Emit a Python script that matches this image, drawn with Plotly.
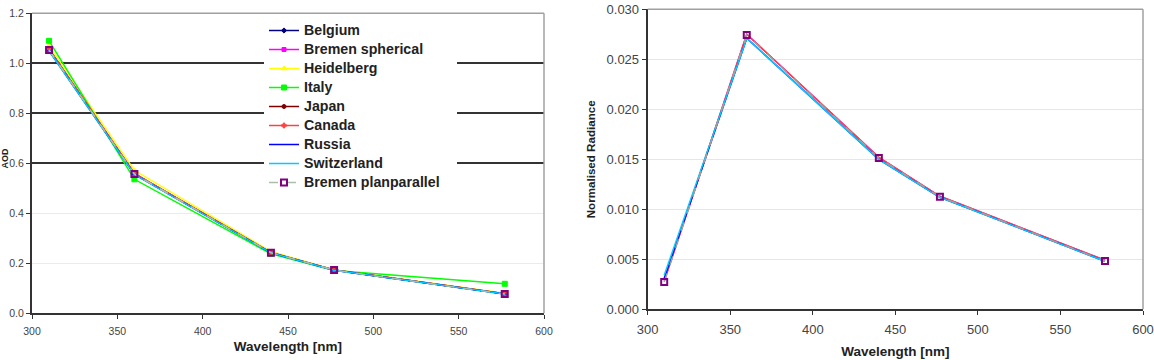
import plotly.graph_objects as go

W, H = 1154, 360

wavelength = [310, 360, 440, 477, 577]

series_names = ["Belgium", "Bremen spherical", "Heidelberg", "Italy", "Japan",
                "Canada", "Russia", "Switzerland", "Bremen planparallel"]

aod_belgium = [1.058, 0.559, 0.243, 0.173, 0.078]
aod_bremen_sph = [1.055, 0.558, 0.243, 0.173, 0.078]
aod_heidelberg = [1.070, 0.572, 0.247, 0.174, 0.080]
aod_italy = [1.090, 0.536, 0.238, 0.171, 0.118]
aod_japan = [1.055, 0.558, 0.243, 0.173, 0.078]
aod_canada = [1.056, 0.560, 0.243, 0.173, 0.078]
aod_russia = [1.050, 0.555, 0.242, 0.172, 0.077]
aod_switzerland = [1.050, 0.555, 0.242, 0.172, 0.077]
aod_bremen_pp = [1.053, 0.557, 0.2425, 0.173, 0.077]

rad_bremen_sph = [0.0028, 0.0275, 0.0152, 0.0113, 0.0049]
rad_canada = [0.0029, 0.0275, 0.0152, 0.0113, 0.0049]
rad_russia = [0.0031, 0.0271, 0.0150, 0.0112, 0.0048]
rad_switzerland = [0.0034, 0.0271, 0.0150, 0.0112, 0.0048]
rad_bremen_pp = [0.00273, 0.02743, 0.01513, 0.01126, 0.00483]

left_yticks = [0.0, 0.2, 0.4, 0.6, 0.8, 1.0, 1.2]
dark_grid_ticks = [0.6, 0.8, 1.0]
right_yticks = [0.000, 0.005, 0.010, 0.015, 0.020, 0.025, 0.030]
xticks = [300, 350, 400, 450, 500, 550, 600]

styles = {
    "Belgium": dict(color="#000080", symbol="diamond", size=4),
    "Bremen spherical": dict(color="#FF00FF", symbol="square", size=4),
    "Heidelberg": dict(color="#FFFF00", symbol="triangle-up", size=5),
    "Italy": dict(color="#00FF00", symbol="square", size=5),
    "Japan": dict(color="#800000", symbol="circle", size=4),
    "Canada": dict(color="#FF4040", symbol="cross", size=4),
    "Russia": dict(color="#0000FF", symbol="line-ew-open", size=4),
    "Switzerland": dict(color="#00CCFF", symbol="line-ew-open", size=1),
}

FONT = "Liberation Sans, Arial, sans-serif"


def legend_label(name, pad=0):
    return f'<span style="font-size:14.2px">{name}{"&#160;" * pad}</span>'


fig = go.Figure()

aod = [aod_belgium, aod_bremen_sph, aod_heidelberg, aod_italy, aod_japan,
       aod_canada, aod_russia, aod_switzerland]
for name, vals in zip(series_names[:-1], aod):
    s = styles[name]
    fig.add_trace(go.Scatter(
        x=wavelength, y=vals, name=legend_label(name), mode="lines+markers",
        line=dict(color=s["color"], width=1.5),
        marker=dict(color=s["color"], symbol=s["symbol"], size=s["size"],
                    line=dict(color=s["color"], width=1)),
        xaxis="x", yaxis="y", showlegend=True))
fig.add_trace(go.Scatter(
    x=wavelength, y=aod_bremen_pp, name=legend_label("Bremen planparallel", pad=3),
    mode="lines+markers",
    line=dict(color="#A8C0A8", width=1.5, dash="dash"),
    marker=dict(color="#800080", symbol="square-open", size=6, line=dict(width=2)),
    xaxis="x", yaxis="y", showlegend=True))

# empty helper trace so the overlaid axis carrying the dark gridlines is drawn
fig.add_trace(go.Scatter(x=[], y=[], xaxis="x", yaxis="y3", showlegend=False,
                         hoverinfo="skip"))

# right panel
right = [("Bremen spherical", rad_bremen_sph), ("Canada", rad_canada),
         ("Russia", rad_russia), ("Switzerland", rad_switzerland)]
for name, vals in right:
    s = styles[name]
    fig.add_trace(go.Scatter(
        x=wavelength, y=vals, name=name, mode="lines",
        line=dict(color=s["color"], width=1.5),
        xaxis="x2", yaxis="y2", showlegend=False))
fig.add_trace(go.Scatter(
    x=wavelength, y=rad_bremen_pp, name="Bremen planparallel", mode="lines+markers",
    line=dict(color="#A0A0A0", width=1.5, dash="dash"),
    marker=dict(color="#800080", symbol="square-open", size=6, line=dict(width=2)),
    xaxis="x2", yaxis="y2", showlegend=False))

lx0, lx1 = 32 / W, 544 / W
ly0, ly1 = (H - 313.3) / H, (H - 13.3) / H
rx0, rx1 = 647.7 / W, 1143 / W
ry0, ry1 = (H - 309.3) / H, (H - 9.3) / H

axis_common = dict(showline=True, linecolor="#333333", linewidth=2, ticks="outside",
                   ticklen=4, tickcolor="#333333", zeroline=False, fixedrange=True,
                   automargin=False)

fig.update_layout(
    width=W, height=H, margin=dict(l=0, r=0, t=0, b=0, autoexpand=False),
    paper_bgcolor="white", plot_bgcolor="white",
    font=dict(family=FONT, color="#444444"),
    xaxis=dict(domain=[lx0, lx1], range=[300, 600], tickvals=xticks,
               anchor="y", showgrid=False, tickfont=dict(size=10.5),
               ticklabelstandoff=3,
               title=dict(text="<b>Wavelength [nm]</b>", font=dict(size=13.5, color="#222222"),
                          standoff=6),
               **axis_common),
    yaxis=dict(domain=[ly0, ly1], range=[0, 1.2], tickvals=left_yticks,
               tickformat=".1f", anchor="x", showgrid=True, gridcolor="#EBEBEB",
               gridwidth=1, tickfont=dict(size=10.5), **axis_common),
    yaxis3=dict(domain=[ly0, ly1], range=[0, 1.2], tickvals=dark_grid_ticks,
                overlaying="y", anchor="x", showgrid=True, gridcolor="#333333",
                gridwidth=2, showticklabels=False, showline=False, ticks="",
                zeroline=False, fixedrange=True, automargin=False),
    xaxis2=dict(domain=[rx0, rx1], range=[300, 600], tickvals=xticks,
                anchor="y2", showgrid=False, tickfont=dict(size=13),
                ticklabelstandoff=3,
                title=dict(text="<b>Wavelength [nm]</b>", font=dict(size=13.5, color="#222222"),
                           standoff=11),
                **axis_common),
    yaxis2=dict(domain=[ry0, ry1], range=[0, 0.030], tickvals=right_yticks,
                tickformat=".3f", anchor="x2", showgrid=True, gridcolor="#E6E6E6",
                gridwidth=1, tickfont=dict(size=13),
                title=dict(text="<b>Normalised Radiance</b>", font=dict(size=11.6, color="#222222"),
                           standoff=8),
                **axis_common),
    legend=dict(x=264 / W, y=1 - 16 / H, xanchor="left", yanchor="top",
                bgcolor="white", borderwidth=0,
                font=dict(size=11, color="#222222", family=FONT, weight="bold"),
                itemwidth=30, tracegroupgap=0),
    showlegend=True,
)

# light border on top and right of each plot area
for xr, yr in (("x domain", "y domain"), ("x2 domain", "y2 domain")):
    fig.add_shape(type="line", xref=xr, yref=yr, x0=0, x1=1, y0=1, y1=1,
                  line=dict(color="#A0A0A0", width=1.5))
    fig.add_shape(type="line", xref=xr, yref=yr, x0=1, x1=1, y0=0, y1=1,
                  line=dict(color="#A0A0A0", width=1.5))

# y-axis title of the left panel (squeezed into the left edge)
fig.add_annotation(text="<b>AOD</b>", xref="paper", yref="paper",
                   x=4.5 / W, y=1 - 158 / H, xanchor="center", yanchor="middle",
                   textangle=-90, showarrow=False,
                   font=dict(size=9, color="#222222", family=FONT))

fig.write_html("out.html")
